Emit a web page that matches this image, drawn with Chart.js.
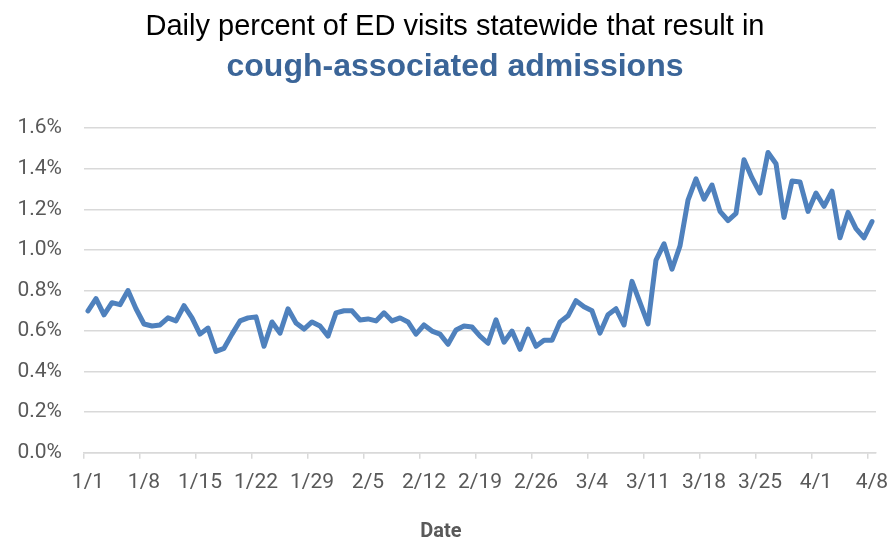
<!DOCTYPE html>
<html>
<head>
<meta charset="utf-8">
<title>Cough-associated admissions</title>
<script src="https://cdn.jsdelivr.net/npm/chart.js@4.4.1/dist/chart.umd.min.js"></script>
<style>
  html, body { margin: 0; padding: 0; background: #fff; }
  canvas { display: block; }
</style>
</head>
<body>
<canvas id="daily" width="892" height="547"></canvas>
<script>
// one entry per day, 1/1 through 4/8 (2020, leap year)
const days = [
  '1/1','1/2','1/3','1/4','1/5','1/6','1/7','1/8','1/9','1/10','1/11','1/12','1/13','1/14','1/15','1/16',
  '1/17','1/18','1/19','1/20','1/21','1/22','1/23','1/24','1/25','1/26','1/27','1/28','1/29','1/30','1/31',
  '2/1','2/2','2/3','2/4','2/5','2/6','2/7','2/8','2/9','2/10','2/11','2/12','2/13','2/14','2/15',
  '2/16','2/17','2/18','2/19','2/20','2/21','2/22','2/23','2/24','2/25','2/26','2/27','2/28','2/29',
  '3/1','3/2','3/3','3/4','3/5','3/6','3/7','3/8','3/9','3/10','3/11','3/12','3/13','3/14','3/15','3/16',
  '3/17','3/18','3/19','3/20','3/21','3/22','3/23','3/24','3/25','3/26','3/27','3/28','3/29','3/30','3/31',
  '4/1','4/2','4/3','4/4','4/5','4/6','4/7','4/8'
];

// percent of ED visits resulting in cough-associated admission
const pctJan = [
  0.70, 0.76, 0.68, 0.74, 0.73, 0.80, 0.71, 0.635, 0.625, 0.63, 0.665, 0.65, 0.725, 0.665, 0.585, 0.615,
  0.50, 0.515, 0.585, 0.65, 0.665, 0.67, 0.525, 0.645, 0.59, 0.71, 0.64, 0.61, 0.645, 0.625, 0.575
];
const pctFeb = [
  0.69, 0.70, 0.70, 0.655, 0.66, 0.65, 0.69, 0.65, 0.665, 0.645, 0.585, 0.63, 0.60, 0.585, 0.535,
  0.605, 0.625, 0.62, 0.575, 0.54, 0.655, 0.545, 0.60, 0.51, 0.61, 0.525, 0.555, 0.555, 0.645
];
const pctMar = [
  0.675, 0.75, 0.72, 0.70, 0.59, 0.68, 0.71, 0.63, 0.845, 0.74, 0.635, 0.95, 1.03, 0.905, 1.02, 1.245,
  1.35, 1.25, 1.32, 1.19, 1.145, 1.18, 1.445, 1.355, 1.28, 1.48, 1.425, 1.16, 1.34, 1.335, 1.19
];
const pctApr = [1.28, 1.215, 1.29, 1.06, 1.185, 1.105, 1.06, 1.14];

const tickLabels = ['1/1','1/8','1/15','1/22','1/29','2/5','2/12','2/19','2/26','3/4','3/11','3/18','3/25','4/1','4/8'];
const yTicks = [0, 0.2, 0.4, 0.6, 0.8, 1.0, 1.2, 1.4, 1.6];

const pct = [...pctJan, ...pctFeb, ...pctMar, ...pctApr];

const axisFont = { family: 'Roboto, "Liberation Sans", sans-serif', size: 21 };
const gray = '#595959';
const gridGray = '#d9d9d9';

// axis title sits a bit left of the plot centre in the original, so draw it ourselves
const dateLabel = {
  id: 'dateLabel',
  afterDraw(chart) {
    const c = chart.ctx;
    c.save();
    c.font = 'bold 20px Roboto, "Liberation Sans", sans-serif';
    c.fillStyle = gray;
    c.textAlign = 'center';
    c.textBaseline = 'middle';
    c.fillText('Date', 441, 532);
    c.restore();
  }
};

const ctx = document.getElementById('daily');

new Chart(ctx, {
  type: 'line',
  data: {
    labels: days,
    datasets: [{
      label: 'Cough-associated admissions',
      data: pct,
      borderColor: '#4f81bd',
      backgroundColor: '#4f81bd',
      borderWidth: 5,
      borderJoinStyle: 'round',
      borderCapStyle: 'round',
      pointRadius: 0,
      tension: 0
    }]
  },
  plugins: [dateLabel],
  options: {
    responsive: false,
    animation: false,
    layout: { padding: { left: 18, right: 0, top: 0, bottom: 41 } },
    plugins: {
      legend: { display: false },
      tooltip: { enabled: false },
      title: {
        display: true,
        text: 'Daily percent of ED visits statewide that result in',
        color: '#000',
        font: { family: '"Liberation Sans", Arial, sans-serif', size: 29, weight: 'normal' },
        padding: { top: 10, bottom: 0 }
      },
      subtitle: {
        display: true,
        text: 'cough-associated admissions',
        color: '#3b6598',
        font: { family: '"Liberation Sans", Arial, sans-serif', size: 32, weight: 'bold' },
        padding: { top: 3, bottom: 42 }
      }
    },
    scales: {
      x: {
        type: 'category',
        offset: true,
        // the last label may hang past the plot, like the original
        afterFit: function (scale) { scale.paddingLeft = 0; scale.paddingRight = 0; },
        grid: {
          offset: true,
          drawOnChartArea: false,
          drawTicks: true,
          tickLength: 6,
          lineWidth: 1.5,
          color: c => (c.index !== undefined && c.index % 7 === 0) ? gridGray : 'rgba(0,0,0,0)'
        },
        border: { display: true, color: gridGray, width: 1.5 },
        ticks: {
          autoSkip: false,
          maxRotation: 0,
          minRotation: 0,
          padding: 11,
          color: gray,
          font: axisFont,
          callback: function (value, index) {
            return tickLabels.includes(days[index]) ? days[index] : '';
          }
        }
      },
      y: {
        min: 0,
        max: 1.6,
        afterFit: function (scale) { scale.width = 66; },
        afterBuildTicks: function (scale) { scale.ticks = yTicks.map(v => ({ value: v })); },
        grid: { color: gridGray, lineWidth: 1.5, drawTicks: false },
        border: { display: false },
        ticks: {
          padding: 22,
          color: gray,
          font: axisFont,
          callback: value => value.toFixed(1) + '%'
        }
      },
      // empty right-hand axis, only reserves the margin right of the plot
      yRight: {
        position: 'right',
        display: true,
        afterFit: function (scale) { scale.width = 16; },
        grid: { display: false },
        border: { display: false },
        ticks: { display: false }
      }
    }
  }
});
</script>
</body>
</html>
